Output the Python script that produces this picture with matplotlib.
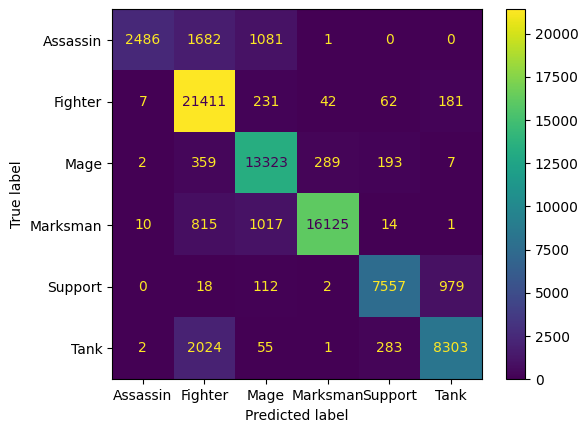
import matplotlib
matplotlib.use('Agg')
import matplotlib.pyplot as plt
import numpy as np

labels = ['Assassin', 'Fighter', 'Mage', 'Marksman', 'Support', 'Tank']
row_assassin = [2486, 1682, 1081, 1, 0, 0]
row_fighter = [7, 21411, 231, 42, 62, 181]
row_mage = [2, 359, 13323, 289, 193, 7]
row_marksman = [10, 815, 1017, 16125, 14, 1]
row_support = [0, 18, 112, 2, 7557, 979]
row_tank = [2, 2024, 55, 1, 283, 8303]

cm = np.array([row_assassin, row_fighter, row_mage, row_marksman, row_support, row_tank])

fig = plt.figure(figsize=(5.88, 4.32), dpi=100)
ax = fig.add_axes([0.1905, 0.122, 0.6287, 0.8565])
cax = fig.add_axes([0.8605, 0.122, 0.0323, 0.8565])

cmap = plt.get_cmap('viridis')
im = ax.imshow(cm, interpolation='nearest', cmap=cmap, aspect='auto')
fig.colorbar(im, cax=cax)

cmap_min, cmap_max = cmap(0.0), cmap(1.0)
thresh = (cm.max() + cm.min()) / 2.0
n = len(labels)
for i in range(n):
    for j in range(n):
        color = cmap_max if cm[i, j] < thresh else cmap_min
        ax.text(j, i, format(cm[i, j], 'd'), ha='center', va='center', color=color)

ax.set_xticks(np.arange(n))
ax.set_yticks(np.arange(n))
ax.set_xticklabels(labels)
ax.set_yticklabels(labels)
ax.set_xlabel('Predicted label')
ax.set_ylabel('True label')
ax.set_ylim(n - 0.5, -0.5)

fig.savefig('out.png', dpi=100)
